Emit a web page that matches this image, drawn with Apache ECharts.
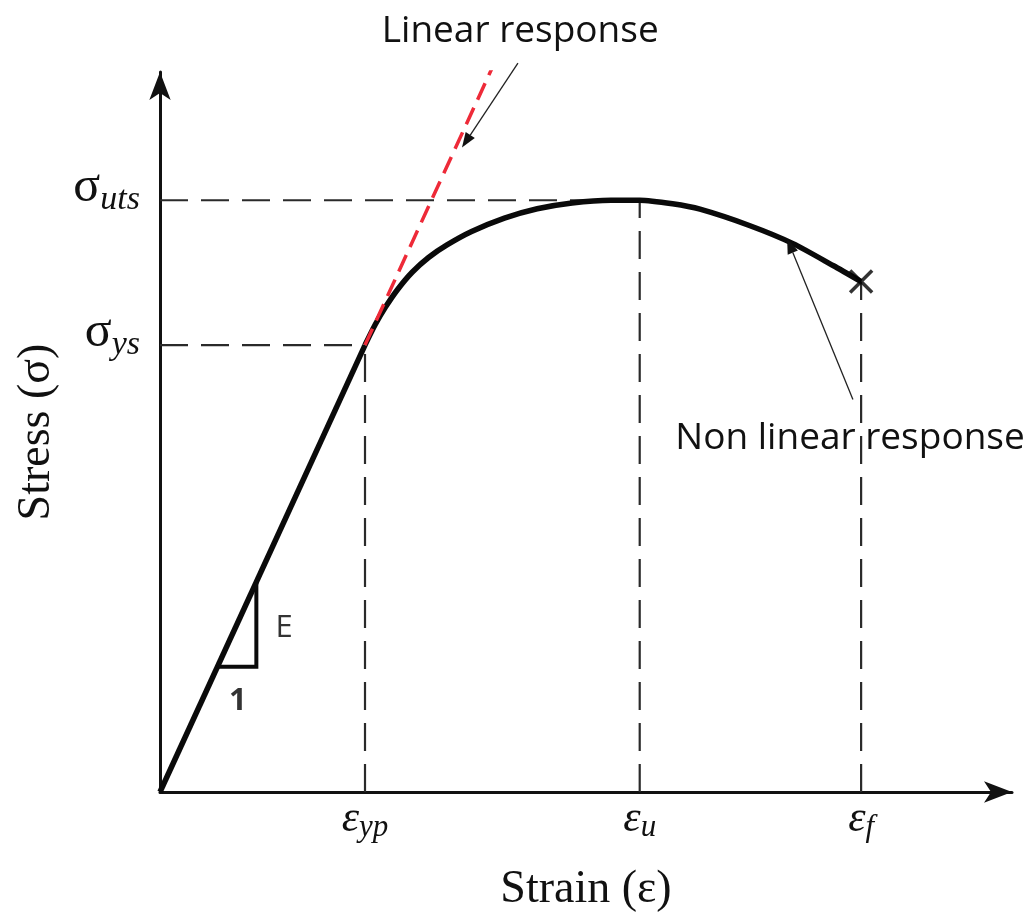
<!DOCTYPE html>
<html>
<head>
<meta charset="utf-8">
<title>Stress–strain curve</title>
<script src="https://cdn.jsdelivr.net/npm/echarts@6/dist/echarts.min.js"></script>
<style>
  html, body { margin: 0; padding: 0; background: #fff; }
  #chart { width: 1035px; height: 918px; }
</style>
</head>
<body>
<div id="chart"></div>
<script>
// Schematic stress–strain curve (arbitrary units: ε_yp = 1, σ_ys = 1)

// elastic branch: origin to the yield point
const elasticStrain = [0, 1.0];
const elasticStress = [0, 1.0];

// plastic branch: yield point, ultimate strength, fracture
const plasticStrain = [1.0, 1.05, 1.10, 1.16, 1.23, 1.31, 1.40, 1.52, 1.68, 1.84, 2.01, 2.20, 2.34, 2.50, 2.634, 2.878, 3.088, 3.283, 3.42];
const plasticStress = [1.0, 1.046, 1.085, 1.125, 1.163, 1.196, 1.224, 1.254, 1.284, 1.305, 1.318, 1.324, 1.324, 1.316, 1.304, 1.267, 1.227, 1.178, 1.142];

// extension of the elastic slope beyond yield
const linearStrain = [1.0, 1.62];
const linearStress = [1.0, 1.62];

// characteristic points
const strainTicks = [1.0, 2.34, 3.42];
const strainSubs = ['yp', 'u', 'f'];
const stressTicks = [1.0, 1.324];
const stressSubs = ['ys', 'uts'];

// fracture point
const fractureStrain = 3.42;
const fractureStress = 1.142;

// slope triangle (run 1, rise E)
const slopeStrain = [0.28, 0.47, 0.47];
const slopeStress = [0.28, 0.28, 0.47];

// annotation pointers: [from, to] in strain/stress units
const pointers = [
  { text: 'Linear response', from: [1.746, 1.631], to: [1.473, 1.442], label: [1.757, 1.702] },
  { text: 'Non linear response', from: [3.380, 0.878], to: [3.059, 1.238], label: [3.366, 0.792] }
];

const zip = (xs, ys) => xs.map((x, i) => [x, ys[i]]);

const guideStyle = { color: '#2a2a2a', width: 2.2, type: [28, 13] };
const guideSeries = [
  // σ_ys horizontal + ε_yp vertical
  [[0, stressTicks[0]], [strainTicks[0], stressTicks[0]]],
  [[strainTicks[0], 0], [strainTicks[0], stressTicks[0]]],
  // σ_uts horizontal + ε_u vertical
  [[0, stressTicks[1]], [strainTicks[1], stressTicks[1]]],
  [[strainTicks[1], 0], [strainTicks[1], stressTicks[1]]],
  // ε_f vertical
  [[strainTicks[2], 0], [strainTicks[2], fractureStress]]
].map(d => ({
  type: 'line', data: d, symbol: 'none', silent: true, z: 1,
  lineStyle: guideStyle
}));

const serif = 'Liberation Serif';
const sans = 'Open Sans';

const chart = echarts.init(document.getElementById('chart'), null, { renderer: 'canvas' });

chart.setOption({
  animation: false,
  backgroundColor: '#ffffff',
  grid: { left: 160, right: 23, top: 72, bottom: 121 },
  xAxis: {
    type: 'value', min: 0, max: 4.156,
    name: 'Strain (ε)', nameLocation: 'middle', nameGap: 75,
    nameTextStyle: { fontFamily: serif, fontSize: 46, color: '#111' },
    axisLine: { show: true, symbol: ['none', 'arrow'], symbolSize: [16, 28], lineStyle: { color: '#111', width: 3 } },
    axisTick: { show: false },
    splitLine: { show: false },
    axisLabel: {
      customValues: strainTicks, margin: 4, color: '#111',
      formatter: v => '{e|ε}{s|' + strainSubs[strainTicks.indexOf(v)] + '}',
      rich: {
        e: { fontFamily: serif, fontStyle: 'italic', fontSize: 44, color: '#111' },
        s: { fontFamily: serif, fontStyle: 'italic', fontSize: 31, color: '#111', padding: [16, 0, 0, 0] }
      }
    }
  },
  yAxis: {
    type: 'value', min: 0, max: 1.611,
    name: 'Stress (σ)', nameLocation: 'middle', nameRotate: 90, nameGap: 100,
    nameTextStyle: { fontFamily: serif, fontSize: 46, color: '#111' },
    axisLine: { show: true, symbol: ['none', 'arrow'], symbolSize: [16, 28], lineStyle: { color: '#111', width: 3 } },
    axisTick: { show: false },
    splitLine: { show: false },
    axisLabel: {
      customValues: stressTicks, margin: 20, color: '#111',
      formatter: v => '{g|σ}{s|' + stressSubs[stressTicks.indexOf(v)] + '}',
      rich: {
        g: { fontFamily: serif, fontSize: 50, color: '#111', padding: [0, 0, 25, 0] },
        s: { fontFamily: serif, fontStyle: 'italic', fontSize: 34, color: '#111' }
      }
    }
  },
  series: [
    ...guideSeries,
    {
      type: 'line', name: 'elastic', data: zip(elasticStrain, elasticStress),
      symbol: 'none', z: 3, lineStyle: { color: '#0a0a0a', width: 5.5 }
    },
    {
      type: 'line', name: 'plastic', data: zip(plasticStrain, plasticStress),
      symbol: 'none', smooth: 0.25, z: 3, lineStyle: { color: '#0a0a0a', width: 5.5 }
    },
    {
      type: 'line', name: 'linear', data: zip(linearStrain, linearStress),
      symbol: 'none', z: 4, lineStyle: { color: '#ee2a38', width: 3.5, type: [18, 9] }
    },
    {
      type: 'line', name: 'slope', data: zip(slopeStrain, slopeStress),
      symbol: 'none', z: 3, lineStyle: { color: '#0a0a0a', width: 4, join: 'miter' }
    },
    {
      type: 'scatter', name: 'fracture', data: [[fractureStrain, fractureStress]],
      symbol: 'path://M0,0L20,20M20,0L0,20', symbolSize: 22, z: 5,
      itemStyle: { color: 'rgba(0,0,0,0)', borderColor: '#000', borderWidth: 3.5 }
    },
    {
      type: 'scatter', name: 'slope labels', symbolSize: 0, z: 5,
      data: [
        { value: [0.605, 0.367], label: { formatter: 'E' } },
        { value: [0.38, 0.204], label: { formatter: '1', fontWeight: 'bold' } }
      ],
      label: { show: true, position: 'inside', fontFamily: sans, fontSize: 31, color: '#000' }
    }
  ]
});

// annotation texts and pointer arrows, placed through the grid's own scales
function drawPointers() {
  const els = [];
  pointers.forEach(p => {
    const a = chart.convertToPixel({ gridIndex: 0 }, p.from);
    const b = chart.convertToPixel({ gridIndex: 0 }, p.to);
    const t = chart.convertToPixel({ gridIndex: 0 }, p.label);
    const dx = b[0] - a[0], dy = b[1] - a[1];
    const len = Math.hypot(dx, dy);
    const ux = dx / len, uy = dy / len;
    const head = 15, half = 5.5;
    const base = [b[0] - ux * head, b[1] - uy * head];
    els.push({
      type: 'line', z: 20, silent: true,
      shape: { x1: a[0], y1: a[1], x2: base[0], y2: base[1] },
      style: { stroke: '#222', lineWidth: 1.3 }
    });
    els.push({
      type: 'polygon', z: 20, silent: true,
      shape: { points: [b, [base[0] - uy * half, base[1] + ux * half], [base[0] + uy * half, base[1] - ux * half]] },
      style: { fill: '#111' }
    });
    els.push({
      type: 'text', z: 21, silent: true, x: t[0], y: t[1],
      style: { text: p.text, font: '37px "Open Sans"', fill: '#111', align: 'center', verticalAlign: 'middle' }
    });
  });
  chart.setOption({ graphic: els });
}
drawPointers();
</script>
</body>
</html>
